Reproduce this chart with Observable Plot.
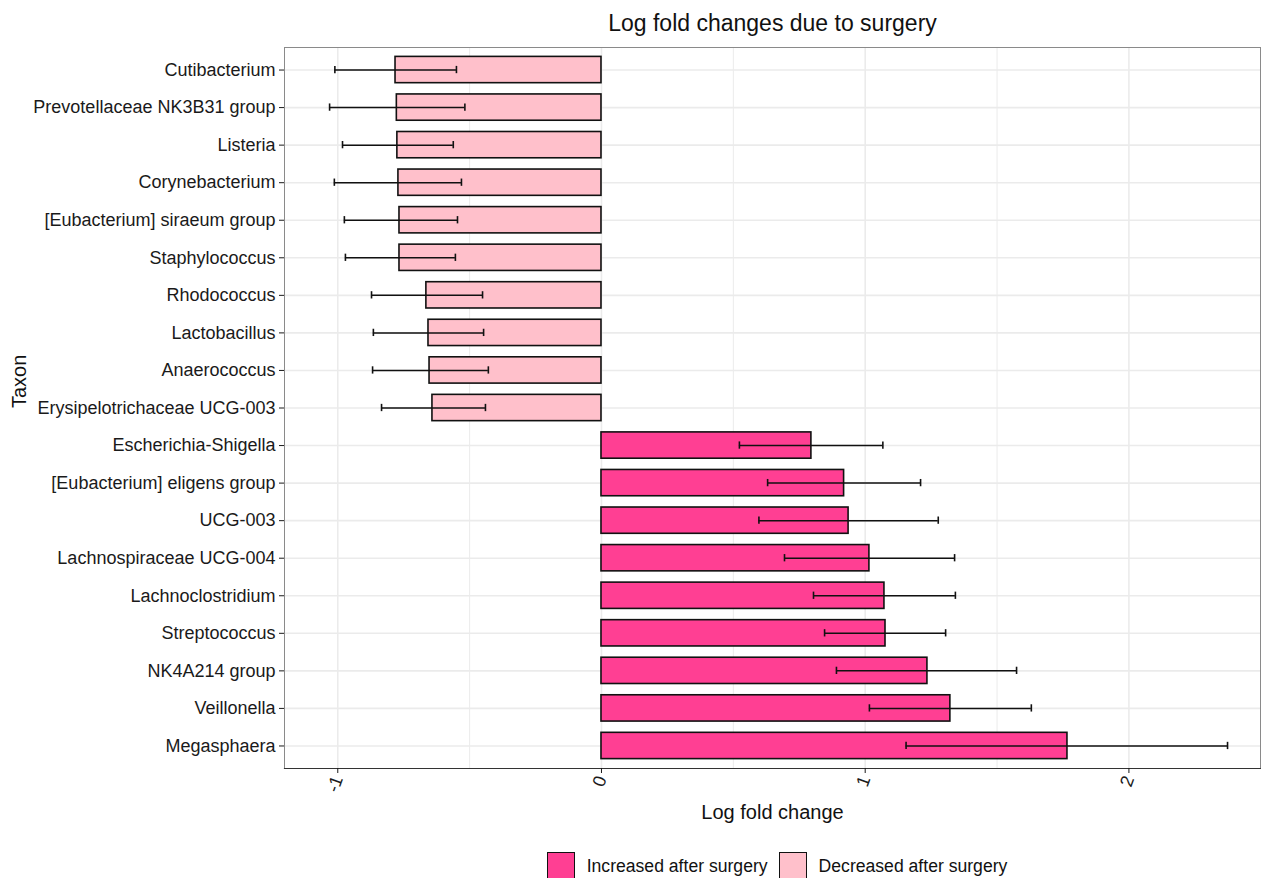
<!DOCTYPE html>
<html>
<head>
<meta charset="utf-8">
<script src="https://cdn.jsdelivr.net/npm/d3@7"></script>
<script src="https://cdn.jsdelivr.net/npm/@observablehq/plot@0.6"></script>
<style>
  html, body { margin: 0; padding: 0; background: #fff; }
  body { width: 1261px; height: 878px; position: relative; overflow: hidden;
         font-family: "Liberation Sans", Arial, sans-serif; color: #111; }
  #title { position: absolute; left: 284px; width: 977px; top: 10px; text-align: center;
           font-size: 23px; line-height: normal; }
  #chart { position: absolute; left: 0; top: 44px; }
  #legend { position: absolute; top: 852px; left: 0; width: 1261px; display: flex;
            justify-content: center; padding-left: 304px; box-sizing: border-box;
            font-size: 17.6px; align-items: center; }
  .key { display: flex; align-items: center; margin-right: 11px; }
  .swatch { width: 26px; height: 26px; border: 1.6px solid #111; margin-right: 12px; }
</style>
</head>
<body>
<div id="title">Log fold changes due to surgery</div>
<div id="chart"></div>
<div id="legend"></div>
<script>
// Taxa, top to bottom
const taxa = [
  "Cutibacterium", "Prevotellaceae NK3B31 group", "Listeria", "Corynebacterium",
  "[Eubacterium] siraeum group", "Staphylococcus", "Rhodococcus", "Lactobacillus",
  "Anaerococcus", "Erysipelotrichaceae UCG-003", "Escherichia-Shigella",
  "[Eubacterium] eligens group", "UCG-003", "Lachnospiraceae UCG-004",
  "Lachnoclostridium", "Streptococcus", "NK4A214 group", "Veillonella", "Megasphaera"
];
// Log fold change estimates
const lfc = [
  -0.781, -0.776, -0.774, -0.770, -0.766, -0.766, -0.664, -0.656, -0.652, -0.641,
  0.796, 0.920, 0.937, 1.016, 1.073, 1.077, 1.236, 1.323, 1.767
];
// Interval bounds
const lower = [
  -1.011, -1.031, -0.982, -1.013, -0.975, -0.971, -0.872, -0.865, -0.868, -0.834,
  0.523, 0.630, 0.597, 0.694, 0.804, 0.846, 0.891, 1.016, 1.155
];
const upper = [
  -0.550, -0.518, -0.562, -0.531, -0.546, -0.554, -0.451, -0.447, -0.429, -0.440,
  1.067, 1.210, 1.277, 1.339, 1.342, 1.305, 1.574, 1.630, 2.374
];
const groups = ["Increased after surgery", "Decreased after surgery"];
const groupColors = ["#FF3F93", "#FFC0CB"];
const xTicks = [-1, 0, 1, 2];
const xMinor = [-0.5, 0.5, 1.5];

const rows = taxa.map((t, i) => ({
  taxon: t, lfc: lfc[i], lo: lower[i], hi: upper[i],
  group: lfc[i] > 0 ? groups[0] : groups[1]
}));

const grid = "#EBEBEB";
const ink = "#111";

const chart = Plot.plot({
  width: 1261,
  height: 806,
  marginTop: 3,
  marginBottom: 82,
  marginLeft: 284,
  marginRight: 1,
  style: { fontFamily: "'Liberation Sans', Arial, sans-serif", fontSize: "18px", color: "#1a1a1a", background: "#fff" },
  x: { domain: [-1.202, 2.499] },
  y: { domain: taxa, paddingInner: 0.3, paddingOuter: 0.25, round: false },
  color: { domain: groups, range: groupColors },
  marks: [
    Plot.gridX(xMinor, { stroke: grid, strokeOpacity: 1, strokeWidth: 1 }),
    Plot.gridX(xTicks, { stroke: grid, strokeOpacity: 1, strokeWidth: 1.6 }),
    Plot.gridY(taxa, { stroke: grid, strokeOpacity: 1, strokeWidth: 1.6 }),
    Plot.barX(rows, { y: "taxon", x1: 0, x2: "lfc", fill: "group", stroke: ink, strokeWidth: 1.6 }),
    // interval whiskers with end caps
    Plot.ruleY(rows, { y: "taxon", x1: "lo", x2: "hi", stroke: ink, strokeWidth: 1.5 }),
    Plot.tickX(rows, { y: "taxon", x: "lo", stroke: ink, strokeWidth: 1.6, insetTop: 9.5, insetBottom: 9.5 }),
    Plot.tickX(rows, { y: "taxon", x: "hi", stroke: ink, strokeWidth: 1.6, insetTop: 9.5, insetBottom: 9.5 }),
    Plot.frame({ stroke: "#8a8a8a", strokeWidth: 1 }),
    Plot.frame({ anchor: "bottom", stroke: "#333", strokeWidth: 1.2 }),
    Plot.axisY({ tickSize: 5, tickPadding: 4, label: null, fontSize: 18, color: "#1a1a1a" }),
    Plot.axisX(xTicks, { tickSize: 5, tickPadding: 3, tickRotate: -70, tickFormat: d => String(d), label: null, fontSize: 18, color: "#1a1a1a" }),
    Plot.text(["Log fold change"], { frameAnchor: "bottom", dy: 50, fontSize: 20, fill: ink }),
    Plot.text(["Taxon"], { frameAnchor: "left", dx: -265, rotate: -90, fontSize: 20, fill: ink })
  ]
});
document.getElementById("chart").appendChild(chart);

// Legend below the plot
const legend = document.getElementById("legend");
groups.forEach((g, i) => {
  const key = document.createElement("div");
  key.className = "key";
  const sw = document.createElement("div");
  sw.className = "swatch";
  sw.style.background = groupColors[i];
  const label = document.createElement("span");
  label.textContent = g;
  key.appendChild(sw);
  key.appendChild(label);
  legend.appendChild(key);
});
</script>
</body>
</html>
